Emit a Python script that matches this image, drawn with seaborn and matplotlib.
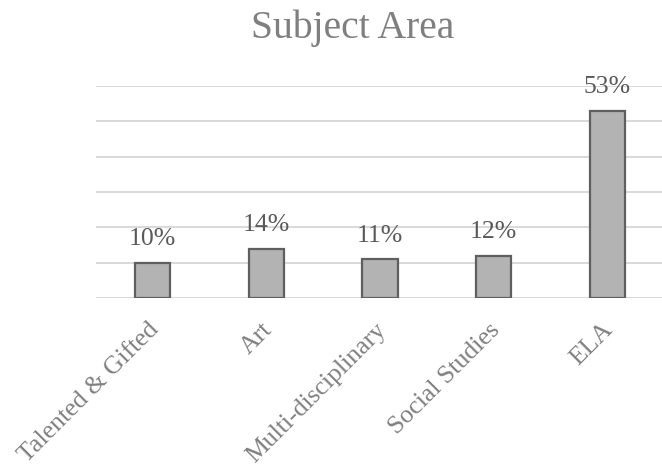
import matplotlib
matplotlib.use("Agg")
import matplotlib.pyplot as plt
import matplotlib.transforms as mtransforms
import seaborn as sns
import pandas as pd

categories = ["Talented & Gifted", "Art", "Multi-disciplinary", "Social Studies", "ELA"]
values = [10, 14, 11, 12, 53]
value_labels = ["10%", "14%", "11%", "12%", "53%"]
title = "Subject Area"

sns.set_theme(style="white")
plt.rcParams['font.family'] = ['Liberation Serif', 'DejaVu Serif']

df = pd.DataFrame({"cat": categories, "val": values})

fig = plt.figure(figsize=(6.62, 4.70), dpi=100)
ax = fig.add_axes([0.145, 0.366, 0.858, 0.451])

sns.barplot(data=df, x="cat", y="val", color="#b3b3b3", edgecolor="#5f5f5f",
            linewidth=1.6, width=0.31, saturation=1, ax=ax, zorder=3)

ax.set_ylim(0, 60)
ax.set_yticks(range(0, 61, 10))
ax.yaxis.grid(True, color="#d9d9d9", linewidth=1.4, zorder=0)
ax.set_axisbelow(True)
ax.tick_params(axis="y", left=False, labelleft=False)
ax.tick_params(axis="x", bottom=False, pad=9)
for s in ax.spines.values():
    s.set_visible(False)
ax.set_xlabel("")
ax.set_ylabel("")

ax.bar_label(ax.containers[0], labels=value_labels, padding=9, fontsize=18.5, color="#595959")

ax.set_xticks(range(len(categories)))
ax.set_xticklabels(categories, rotation=45, ha="right", rotation_mode="anchor",
                   fontsize=18.5, color="#7f7f7f")
offset = mtransforms.ScaledTranslation(-5 / 100, 0, fig.dpi_scale_trans)
for lbl in ax.get_xticklabels():
    lbl.set_transform(lbl.get_transform() + offset)

fig.text(0.533, 0.94, title, ha="center", va="center", fontsize=28.5, color="#7f7f7f")

fig.savefig("out.png", dpi=100)
